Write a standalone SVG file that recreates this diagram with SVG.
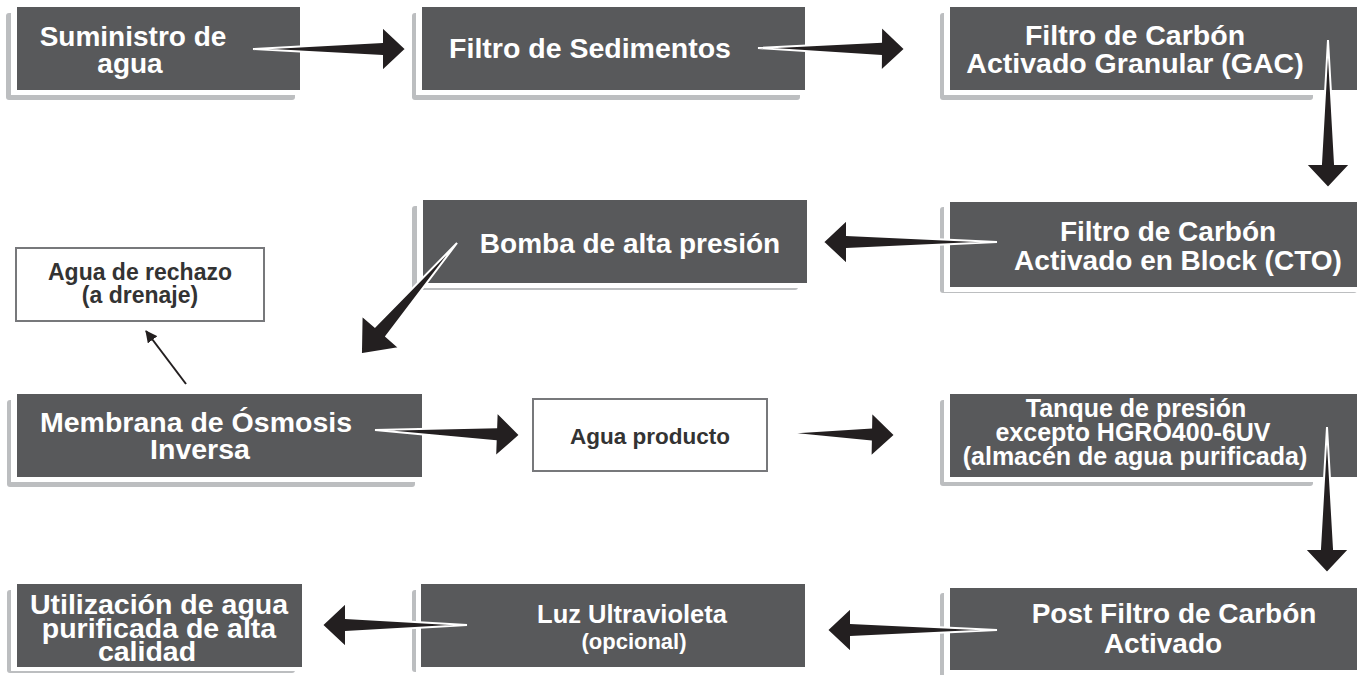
<svg xmlns="http://www.w3.org/2000/svg" width="1357" height="675" viewBox="0 0 1357 675">
<defs>
<style>
.sh{fill:#bcbec0}
.gap{fill:#ffffff}
.bx{fill:#58595b}
.t{font-family:"Liberation Sans",Arial,sans-serif;font-weight:bold;fill:#ffffff;text-anchor:middle}
.wb{fill:#ffffff;stroke:#77787b;stroke-width:2}
.d{font-family:"Liberation Sans",Arial,sans-serif;font-weight:bold;fill:#333333;text-anchor:middle}
.arr{fill:#231f20;stroke:#ffffff;stroke-width:2;stroke-linejoin:miter}
</style>
<marker id="thin" viewBox="0 0 12 12" refX="11" refY="6" markerWidth="12" markerHeight="12" markerUnits="userSpaceOnUse" orient="auto">
<path d="M0,0 L12,6 L0,12 Z" fill="#231f20"/>
</marker>
</defs>
<rect width="1357" height="675" fill="#ffffff"/>

<g id="n1">
<rect class="sh" x="6" y="13" width="289" height="87" rx="3"/>
<rect class="gap" x="11" y="7" width="289" height="88"/>
<rect class="bx" x="17" y="7" width="283" height="83"/>
<text class="t" font-size="28"><tspan x="133" y="46">Suministro de</tspan><tspan x="130" y="73">agua</tspan></text>
</g>
<g id="n2">
<rect class="sh" x="412" y="13" width="388" height="87" rx="3"/>
<rect class="gap" x="416" y="7" width="389" height="88"/>
<rect class="bx" x="422" y="7" width="383" height="83"/>
<text class="t" font-size="28.5" x="590" y="58">Filtro de Sedimentos</text>
</g>
<g id="n3">
<rect class="sh" x="940" y="13" width="373" height="87" rx="3"/>
<rect class="gap" x="944" y="7" width="413" height="88"/>
<rect class="bx" x="950" y="7" width="407" height="83"/>
<text class="t" font-size="28.5"><tspan x="1135" y="45">Filtro de Carbón</tspan><tspan x="1135" y="73">Activado Granular (GAC)</tspan></text>
</g>
<g id="n4">
<rect class="sh" x="940" y="207" width="417" height="86" rx="3"/>
<rect class="gap" x="944" y="202" width="413" height="90"/>
<rect class="bx" x="950" y="202" width="407" height="85"/>
<text class="t" font-size="28"><tspan x="1168" y="241">Filtro de Carbón</tspan><tspan x="1178" y="270">Activado en Block (CTO)</tspan></text>
</g>
<g id="n5">
<rect class="sh" x="412" y="206" width="386" height="84" rx="3"/>
<rect class="gap" x="417" y="200" width="390" height="88"/>
<rect class="bx" x="423" y="200" width="384" height="83"/>
<text class="t" font-size="28" x="630" y="253">Bomba de alta presión</text>
</g>
<g id="n6">
<rect class="gap" x="16" y="248" width="248" height="73"/>
<rect class="wb" x="16" y="248" width="248" height="73"/>
<text class="d" font-size="23"><tspan x="140" y="280">Agua de rechazo</tspan><tspan x="140" y="303">(a drenaje)</tspan></text>
</g>
<g id="n7">
<rect class="sh" x="7" y="400" width="408" height="87" rx="3"/>
<rect class="gap" x="11" y="394" width="411" height="88"/>
<rect class="bx" x="17" y="394" width="405" height="83"/>
<text class="t" font-size="28.5"><tspan x="196" y="432">Membrana de Ósmosis</tspan><tspan x="200" y="459">Inversa</tspan></text>
</g>
<g id="n8">
<rect class="wb" x="533" y="399" width="234" height="72"/>
<text class="d" font-size="22.5" x="650" y="444">Agua producto</text>
</g>
<g id="n9">
<rect class="sh" x="940" y="400" width="373" height="86" rx="3"/>
<rect class="gap" x="944" y="394" width="413" height="88"/>
<rect class="bx" x="950" y="394" width="407" height="83"/>
<text class="t" font-size="25"><tspan x="1136" y="417">Tanque de presión</tspan><tspan x="1133" y="441">excepto HGRO400-6UV</tspan><tspan x="1135" y="465">(almacén de agua purificada)</tspan></text>
</g>
<g id="n10">
<rect class="sh" x="940" y="593" width="417" height="90" rx="3"/>
<rect class="gap" x="944" y="588" width="413" height="87"/>
<rect class="bx" x="950" y="588" width="407" height="82"/>
<text class="t" font-size="28"><tspan x="1174" y="623">Post Filtro de Carbón</tspan><tspan x="1163" y="653">Activado</tspan></text>
</g>
<g id="n11">
<rect class="sh" x="412" y="590" width="386" height="82" rx="3"/>
<rect class="gap" x="416" y="584" width="389" height="88"/>
<rect class="bx" x="421" y="584" width="384" height="83"/>
<text class="t"><tspan x="632" y="623" font-size="25.5">Luz Ultravioleta</tspan><tspan x="634" y="649" font-size="22">(opcional)</tspan></text>
</g>
<g id="n12">
<rect class="sh" x="7" y="590" width="288" height="83" rx="3"/>
<rect class="gap" x="11" y="584" width="291" height="87"/>
<rect class="bx" x="17" y="584" width="285" height="83"/>
<text class="t" font-size="28.5"><tspan x="159" y="614">Utilización de agua</tspan><tspan x="159" y="638">purificada de alta</tspan><tspan x="147" y="661">calidad</tspan></text>
</g>

<g id="connectors">
<path class="arr" transform="translate(253,49)" d="M0,0 L129,-7 L129,-22.5 L153,0 L129,22.5 L129,7 Z"/>
<path class="arr" transform="translate(758,48) rotate(0.4)" d="M0,0 L123,-7 L123,-22.5 L147,0 L123,22.5 L123,7 Z"/>
<path class="arr" transform="translate(1328,40) rotate(90)" d="M0,0 L124,-7 L124,-22.5 L148,0 L124,22.5 L124,7 Z"/>
<path class="arr" transform="translate(997,242) rotate(180)" d="M0,0 L150,-7 L150,-22.5 L174,0 L150,22.5 L150,7 Z"/>
<path class="arr" transform="translate(457,243) rotate(130.8)" d="M0,0 L117,-7.5 L117,-25 L147,0 L117,25 L117,7.5 Z"/>
<path class="arr" transform="translate(375,430) rotate(2)" d="M0,0 L121,-7 L121,-22.5 L145,0 L121,22.5 L121,7 Z"/>
<path class="arr" transform="translate(785,433) rotate(1)" d="M0,0 L86,-7 L86,-22.5 L110,0 L86,22.5 L86,7 Z"/>
<path class="arr" transform="translate(1327,427) rotate(90)" d="M0,0 L122,-7 L122,-22.5 L146,0 L122,22.5 L122,7 Z"/>
<path class="arr" transform="translate(997,630) rotate(180)" d="M0,0 L146,-7 L146,-22.5 L170,0 L146,22.5 L146,7 Z"/>
<path class="arr" transform="translate(467,625) rotate(180)" d="M0,0 L121,-7 L121,-22.5 L145,0 L121,22.5 L121,7 Z"/>
<line x1="186" y1="384" x2="146" y2="331" stroke="#231f20" stroke-width="2" marker-end="url(#thin)"/>
</g>
</svg>
